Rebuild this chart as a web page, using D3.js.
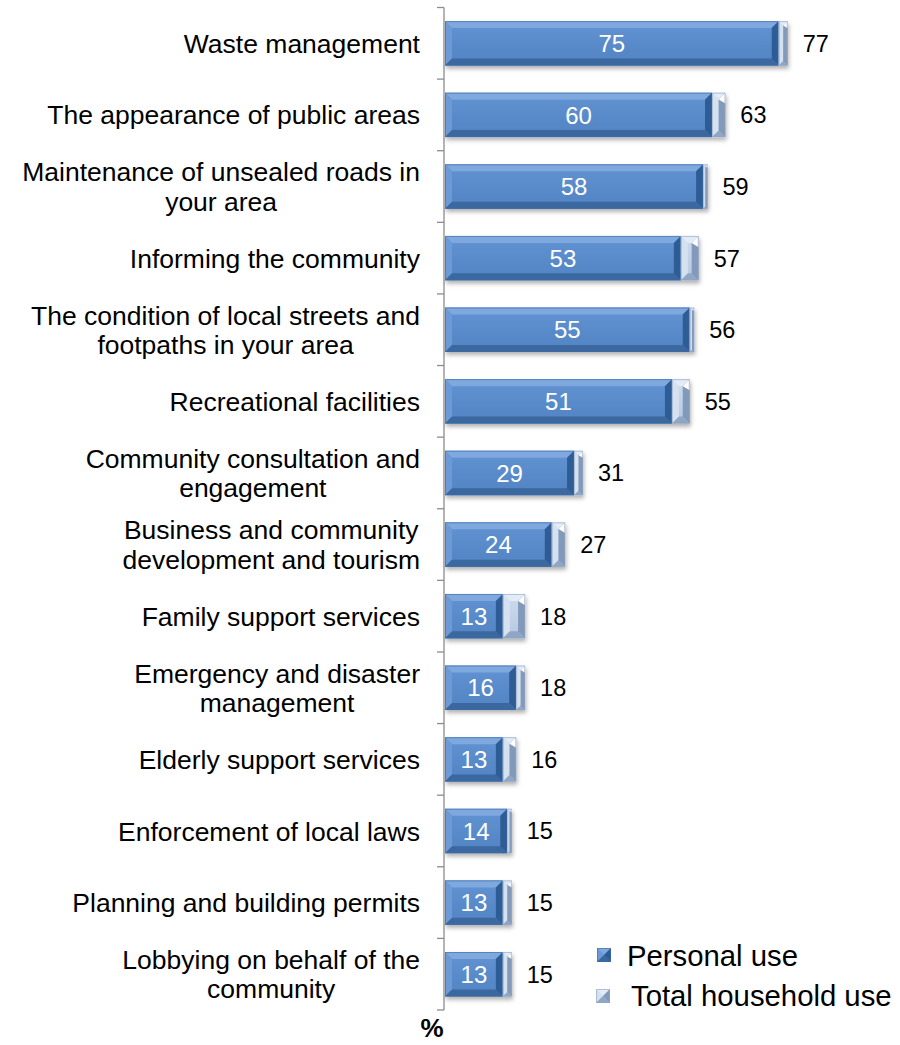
<!DOCTYPE html>
<html>
<head>
<meta charset="utf-8">
<script src="https://cdn.jsdelivr.net/npm/d3@7/dist/d3.min.js"></script>
<style>
  html, body { margin: 0; padding: 0; background: #ffffff; }
  svg { display: block; }
</style>
</head>
<body>
<svg id="chart" width="900" height="1045" font-family="Arial, 'Liberation Sans', sans-serif"></svg>
<script>
// Service areas, each label split into its display lines
const categories = [
  ["Waste management"],
  ["The appearance of public areas"],
  ["Maintenance of unsealed roads in", "your area"],
  ["Informing the community"],
  ["The condition of local streets and", "footpaths in your area"],
  ["Recreational facilities"],
  ["Community consultation and", "engagement"],
  ["Business and community", "development and tourism"],
  ["Family support services"],
  ["Emergency and disaster", "management"],
  ["Elderly support services"],
  ["Enforcement of local laws"],
  ["Planning and building permits"],
  ["Lobbying on behalf of the", "community"]
];
// Percentage using the service personally
const personalUse = [75, 60, 58, 53, 55, 51, 29, 24, 13, 16, 13, 14, 13, 13];
// Percentage of households where anyone used the service
const householdUse = [77, 63, 59, 57, 56, 55, 31, 27, 18, 18, 16, 15, 15, 15];
const seriesNames = ["Personal use", "Total household use"];
const axisUnit = "%";

const svg = d3.select("#chart");
const keys = categories.map(c => c.join(" "));

const x = d3.scaleLinear().domain([0, 100]).range([445, 890]);
const y = d3.scaleBand().domain(keys).range([7.5, 1010]).paddingInner(0.38).paddingOuter(0.19);

const defs = svg.append("defs");
const shadow = defs.append("filter").attr("id", "shadow")
  .attr("x", "-10%").attr("y", "-20%").attr("width", "130%").attr("height", "160%");
shadow.append("feDropShadow").attr("dx", 1).attr("dy", 3).attr("stdDeviation", 2.2)
  .attr("flood-color", "#000").attr("flood-opacity", 0.3);

function grad(id, stops) {
  const g = defs.append("linearGradient").attr("id", id)
    .attr("x1", 0).attr("y1", 0).attr("x2", 0).attr("y2", 1);
  stops.forEach(([o, c]) => g.append("stop").attr("offset", o).attr("stop-color", c));
}
grad("blueFace", [[0, "#6193d2"], [1, "#5283c3"]]);
grad("lightFace", [[0, "#cddbee"], [1, "#b5c8e1"]]);

const palettes = {
  blue: { face: "url(#blueFace)", top: "#7ea8de", left: "#6c9ad6", bottom: "#3b679f", right: "#2f5b94", stroke: "#3e6ca6" },
  light: { face: "url(#lightFace)", top: "#e2ebf6", left: "#d6e1f0", bottom: "#8fa6c4", right: "#8299ba", stroke: "#8ea4c2" }
};

// Bevelled rectangle: flat face with four sloped edges
function bevelBar(g, x0, y0, w, h, pal, light) {
  if (w <= 0) return;
  const b = Math.min(7, w / 2, h / 2);
  const x1 = x0 + w, y1 = y0 + h;
  const grp = g.append("g");
  grp.append("rect").attr("x", x0).attr("y", y0).attr("width", w).attr("height", h)
    .attr("fill", pal.face);
  const poly = (pts, fill) => grp.append("polygon")
    .attr("points", pts.map(p => p.join(",")).join(" ")).attr("fill", fill);
  poly([[x0, y0], [x1, y0], [x1 - b, y0 + b], [x0 + b, y0 + b]], pal.top);
  poly([[x0, y0], [x0 + b, y0 + b], [x0 + b, y1 - b], [x0, y1]], pal.left);
  poly([[x0, y1], [x0 + b, y1 - b], [x1 - b, y1 - b], [x1, y1]], pal.bottom);
  poly([[x1, y0], [x1, y1], [x1 - b, y1 - b], [x1 - b, y0 + b]], pal.right);
  if (light) {
    // bright corner highlight on the household segment
    poly([[x1 - b, y0 + b], [x1, y0], [x1, y0 + b * 1.6]], "#ffffff");
  }
  grp.append("rect").attr("x", x0 + 0.5).attr("y", y0 + 0.5)
    .attr("width", Math.max(0, w - 1)).attr("height", h - 1)
    .attr("fill", "none").attr("stroke", pal.stroke).attr("stroke-width", 1).attr("stroke-opacity", 0.6);
}

// Bars
const barsG = svg.append("g");
keys.forEach((k, i) => {
  const row = barsG.append("g").attr("filter", "url(#shadow)");
  const y0 = y(k), h = y.bandwidth();
  bevelBar(row, x(0), y0, x(personalUse[i]) - x(0), h, palettes.blue, false);
  bevelBar(row, x(personalUse[i]), y0, x(householdUse[i]) - x(personalUse[i]), h, palettes.light, true);
});

// Value labels
keys.forEach((k, i) => {
  const cy = y(k) + y.bandwidth() / 2;
  svg.append("text")
    .attr("x", (x(0) + x(personalUse[i])) / 2).attr("y", cy).attr("dy", "0.36em")
    .attr("text-anchor", "middle").attr("fill", "#ffffff").attr("font-size", 24)
    .text(personalUse[i]);
  svg.append("text")
    .attr("x", x(householdUse[i]) + 15).attr("y", cy).attr("dy", "0.36em")
    .attr("fill", "#000000").attr("font-size", 23.5)
    .text(householdUse[i]);
});

// Category axis: line with ticks at band boundaries
const axisX = 444;
const step = y.step();
const start = y.range()[0];
const axisG = svg.append("g").attr("stroke", "#8c8c8c").attr("stroke-width", 1.3);
axisG.append("line").attr("x1", axisX).attr("x2", axisX)
  .attr("y1", start).attr("y2", start + step * keys.length);
d3.range(keys.length + 1).forEach(j => {
  const ty = start + step * j;
  axisG.append("line").attr("x1", axisX - 7).attr("x2", axisX).attr("y1", ty).attr("y2", ty);
});

// Category labels: lines centred on each other, block right-aligned
const labelRight = 420;
const fs = 26.5, lh = 29.5;
keys.forEach((k, i) => {
  const lines = categories[i];
  const cy = y(k) + y.bandwidth() / 2;
  const t = svg.append("text").attr("font-size", fs).attr("fill", "#000");
  const tsp = lines.map((ln, j) => t.append("tspan").text(ln));
  const widths = tsp.map(s => s.node().getComputedTextLength());
  const maxW = d3.max(widths);
  const cx = labelRight - maxW / 2;
  const firstY = cy - (lines.length - 1) * lh / 2;
  tsp.forEach((s, j) => s.attr("x", cx).attr("y", firstY + j * lh).attr("dy", "0.36em")
    .attr("text-anchor", "middle"));
});

// Axis unit
svg.append("text").attr("x", 432).attr("y", 1037).attr("text-anchor", "middle")
  .attr("font-size", 26).attr("font-weight", "bold").text(axisUnit);

// Legend
const legend = svg.append("g");
const legendItems = [
  { name: seriesNames[0], pal: palettes.blue, sx: 597, sy: 948, tx: 627, ty: 966 },
  { name: seriesNames[1], pal: palettes.light, sx: 596, sy: 989, tx: 631, ty: 1006 }
];
legendItems.forEach((d, i) => {
  const g = legend.append("g");
  bevelBar(g, d.sx, d.sy, 14, 14, d.pal, false);
  legend.append("text").attr("x", d.tx).attr("y", d.ty).attr("font-size", 29.3).text(d.name);
});
</script>
</body>
</html>
